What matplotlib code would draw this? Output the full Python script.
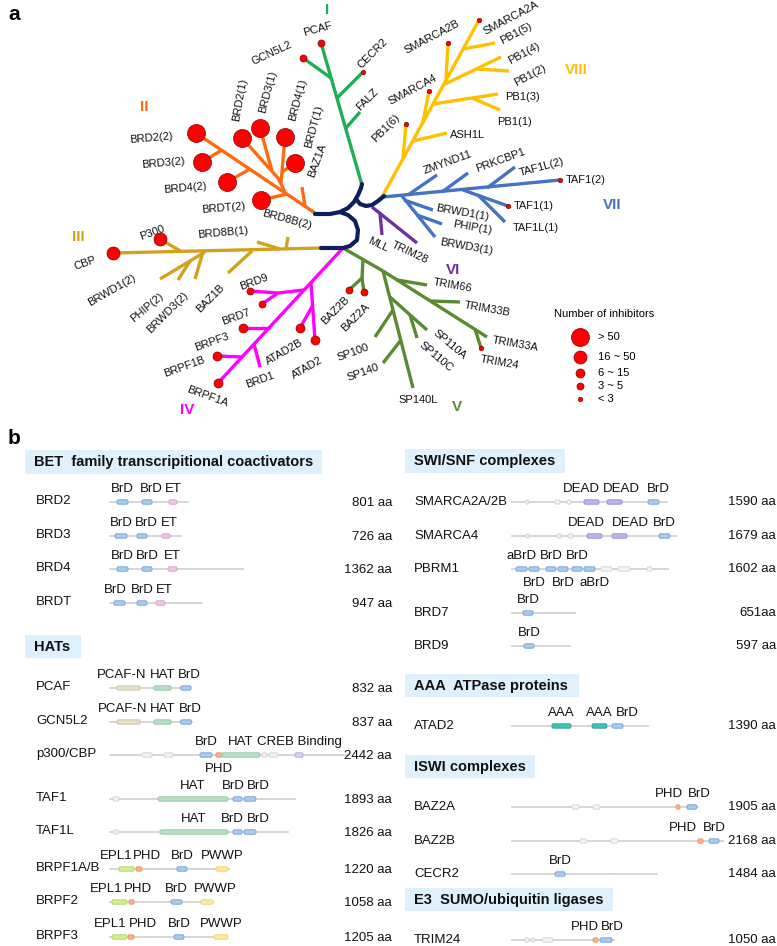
import matplotlib.pyplot as plt
from matplotlib.patches import FancyBboxPatch

plt.rcParams['font.family'] = ['Liberation Sans', 'DejaVu Sans']

# ---------------- data: panel a ----------------
size_classes = ['> 50', '16 ~ 50', '6 ~ 15', '3 ~ 5', '< 3']
# class index (into size_classes) of the number of inhibitors per bromodomain
inhibitors = {
    'BRD2(1)': 0, 'BRD3(1)': 0, 'BRD4(1)': 0, 'BRDT(1)': 0,
    'BRD2(2)': 0, 'BRD3(2)': 0, 'BRD4(2)': 0, 'BRDT(2)': 0,
    'CBP': 1, 'P300': 1,
    'BRD9': 3, 'BRD7': 3, 'BRPF3': 2, 'BRPF1B': 2, 'BRPF1A': 2,
    'ATAD2B': 2, 'ATAD2': 2, 'BAZ2B': 3, 'BAZ2A': 3, 'TRIM24': 4,
    'PCAF': 3, 'GCN5L2': 3, 'CECR2': 4,
    'SMARCA2A': 4, 'SMARCA2B': 4, 'SMARCA4': 4, 'PB1(6)': 4,
    'TAF1(2)': 4, 'TAF1(1)': 4,
}
family_names = ['I', 'II', 'III', 'IV', 'V', 'VI', 'VII', 'VIII']
family_colors = ['#1DAF55', '#FF6A10', '#D4A11C', '#FF00FF', '#5A8A32',
                 '#7030A0', '#4472C4', '#FFC000']

# ---------------- data: panel b ----------------
left_proteins = ['BRD2', 'BRD3', 'BRD4', 'BRDT', 'PCAF', 'GCN5L2', 'p300/CBP',
                 'TAF1', 'TAF1L', 'BRPF1A/B', 'BRPF2', 'BRPF3']
right_proteins = ['SMARCA2A/2B', 'SMARCA4', 'PBRM1', 'BRD7', 'BRD9', 'ATAD2',
                  'BAZ2A', 'BAZ2B', 'CECR2', 'TRIM24']
lengths = {'BRD2': 801, 'BRD3': 726, 'BRD4': 1362, 'BRDT': 947, 'PCAF': 832,
           'GCN5L2': 837, 'p300/CBP': 2442, 'TAF1': 1893, 'TAF1L': 1826,
           'BRPF1A/B': 1220, 'BRPF2': 1058, 'BRPF3': 1205,
           'SMARCA2A/2B': 1590, 'SMARCA4': 1679, 'PBRM1': 1602, 'BRD7': 651,
           'BRD9': 597, 'ATAD2': 1390, 'BAZ2A': 1905, 'BAZ2B': 2168,
           'CECR2': 1484, 'TRIM24': 1050}
# (domain, start aa, end aa); '' = unlabelled grey region
domains = {
    'BRD2': [('BrD', 72, 185), ('BrD', 328, 431), ('ET', 605, 687)],
    'BRD3': [('BrD', 51, 174), ('BrD', 277, 379), ('ET', 533, 615)],
    'BRD4': [('BrD', 72, 185), ('BrD', 328, 431), ('ET', 595, 687)],
    'BRDT': [('BrD', 41, 154), ('BrD', 277, 379), ('ET', 472, 564)],
    'PCAF': [('PCAF-N', 72, 308), ('HAT', 451, 626), ('BrD', 725, 830)],
    'GCN5L2': [('PCAF-N', 72, 308), ('HAT', 451, 626), ('BrD', 725, 835)],
    'p300/CBP': [('', 328, 431), ('', 554, 646), ('BrD', 923, 1046),
                 ('PHD', 1087, 1149), ('HAT', 1149, 1538), ('', 1559, 1610),
                 ('', 1631, 1723), ('CREB Binding', 1897, 1979)],
    'TAF1': [('', 31, 92), ('HAT', 492, 1210), ('BrD', 1262, 1354), ('BrD', 1374, 1497)],
    'TAF1L': [('', 31, 92), ('HAT', 513, 1210), ('BrD', 1262, 1354), ('BrD', 1374, 1497)],
    'BRPF1A/B': [('EPL1', 92, 246), ('PHD', 267, 328), ('BrD', 687, 790), ('PWWP', 1087, 1210)],
    'BRPF2': [('EPL1', 21, 174), ('PHD', 195, 246), ('BrD', 626, 738), ('PWWP', 933, 1056)],
    'BRPF3': [('EPL1', 21, 174), ('PHD', 185, 246), ('BrD', 656, 759), ('PWWP', 1067, 1210)],
    'SMARCA2A/2B': [('', 144, 174), ('', 441, 492), ('', 564, 605), ('DEAD', 738, 892),
                    ('DEAD', 974, 1128), ('BrD', 1395, 1508)],
    'SMARCA4': [('', 144, 174), ('', 462, 503), ('', 574, 626), ('DEAD', 769, 923),
                ('DEAD', 1026, 1179), ('BrD', 1508, 1620)],
    'PBRM1': [('aBrD', 41, 154), ('BrD', 174, 277), ('BrD', 349, 451), ('BrD', 472, 574),
              ('BrD', 615, 718), ('aBrD', 738, 851), ('', 913, 1026), ('', 1087, 1210),
              ('', 1385, 1436)],
    'BRD7': [('BrD', 113, 215)],
    'BRD9': [('BrD', 123, 226)],
    'ATAD2': [('AAA', 410, 605), ('AAA', 821, 974), ('BrD', 1026, 1138)],
    'BAZ2A': [('', 615, 687), ('', 831, 903), ('PHD', 1682, 1723), ('BrD', 1795, 1895)],
    'BAZ2B': [('', 697, 769), ('', 1015, 1087), ('PHD', 1908, 1959), ('BrD', 2021, 2123)],
    'CECR2': [('BrD', 441, 544)],
    'TRIM24': [('', 133, 174), ('', 195, 226), ('', 308, 421), ('PHD', 831, 882),
               ('BrD', 903, 1026)],
}
sections = ['BET  family transcripitional coactivators', 'HATs', 'SWI/SNF complexes',
            'AAA  ATPase proteins', 'ISWI complexes', 'E3  SUMO/ubiquitin ligases']

# ---------------- layout ----------------
W, H = 777, 946
fig = plt.figure(figsize=(W / 100, H / 100), dpi=100)
ax = fig.add_axes([0, 0, 1, 1])
ax.set_xlim(0, W)
ax.set_ylim(H, 0)
ax.axis('off')

# tree geometry (pixel space): branches, leaves -> (tip, label pos, rotation), numeral pos
tree = {
    'I': dict(numeral=(327, 10), branches=[
        [(362, 185), (321, 43)], [(346, 128), (360, 112)], [(337, 98), (363, 72)],
        [(331, 78), (303, 58)]],
        leaves={'PCAF': ((321, 43), (318, 29), 15), 'GCN5L2': ((303, 58), (272, 53), 25),
                'CECR2': ((363, 72), (373, 53), 45), 'FALZ': (None, (367, 100), 45)}),
    'II': dict(numeral=(144, 107), branches=[
        [(315, 213), (196, 133)], [(305, 206), (302, 187)], [(287, 194), (261, 200)],
        [(285, 192), (278, 178), (242, 138)], [(272, 171), (260, 128)],
        [(281, 183), (285, 137)], [(282, 172), (295, 163)],
        [(250, 169), (227, 182)], [(222, 150), (202, 162)]],
        leaves={'BRD2(2)': ((196, 133), (151, 138), 5), 'BRD3(2)': ((202, 162), (163, 163), 5),
                'BRD4(2)': ((227, 182), (185, 188), 5), 'BRDT(2)': ((261, 200), (224, 208), 5),
                'BRD2(1)': ((242, 138), (240, 100), 80), 'BRD3(1)': ((260, 128), (268, 92), 75),
                'BRD4(1)': ((285, 137), (298, 100), 75), 'BRDT(1)': ((295, 163), (314, 127), 75),
                'BAZ1A': (None, (317, 160), 70)}),
    'III': dict(numeral=(78, 237), branches=[
        [(322, 248), (113, 253)], [(182, 252), (160, 239)], [(205, 252), (160, 279)],
        [(190, 261), (178, 280)], [(203, 252), (195, 279)], [(252, 251), (228, 273)],
        [(280, 249), (257, 242)], [(286, 249), (288, 237)]],
        leaves={'CBP': ((113, 253), (85, 263), 20), 'P300': ((160, 239), (152, 233), 20),
                'BRD8B(1)': (None, (223, 233), 5), 'BRD8B(2)': (None, (287, 220), -15),
                'BRWD1(2)': (None, (112, 290), 30), 'PHIP(2)': (None, (147, 307), 40),
                'BRWD3(2)': (None, (168, 313), 45), 'BAZ1B': (None, (210, 298), 45)}),
    'IV': dict(numeral=(187, 410), branches=[
        [(343, 248), (218, 383)], [(304, 290), (278, 293), (250, 291)], [(278, 293), (262, 304)],
        [(311, 283), (315, 340)], [(313, 305), (300, 328)], [(270, 328), (243, 328)],
        [(254, 344), (260, 367)], [(242, 357), (217, 356)]],
        leaves={'BRD9': ((250, 291), (254, 282), 20), 'BRD7': ((262, 304), (236, 317), 20),
                'BRPF3': ((243, 328), (212, 342), 20), 'BRPF1B': ((217, 356), (184, 367), 20),
                'BRPF1A': ((218, 383), (207, 397), -20), 'BRD1': (None, (260, 380), 20),
                'ATAD2B': ((300, 328), (284, 352), 30), 'ATAD2': ((315, 340), (307, 368), 30)}),
    'V': dict(numeral=(457, 407), branches=[
        [(343, 248), (383, 271)], [(363, 260), (362, 278), (349, 290)], [(362, 278), (364, 292)],
        [(383, 271), (487, 337)], [(397, 280), (427, 285)], [(430, 301), (460, 302)],
        [(475, 329), (481, 348)], [(383, 271), (413, 388)], [(390, 297), (427, 330)],
        [(410, 315), (417, 338)], [(393, 310), (375, 337)], [(401, 340), (383, 363)]],
        leaves={'TRIM66': (None, (453, 285), -10), 'TRIM33B': (None, (487, 309), -10),
                'TRIM33A': (None, (515, 344), -10), 'TRIM24': ((481, 348), (500, 362), -10),
                'SP110A': (None, (450, 345), -40), 'SP110C': (None, (436, 357), -40),
                'SP140L': (None, (418, 400), 0), 'SP100': (None, (353, 352), 20),
                'SP140': (None, (363, 372), 20), 'BAZ2B': ((349, 290), (335, 310), 45),
                'BAZ2A': ((364, 292), (355, 317), 45)}),
    'VI': dict(numeral=(453, 270), branches=[
        [(372, 207), (417, 243)], [(380, 213), (382, 235)]],
        leaves={'MLL': (None, (378, 245), -25), 'TRIM28': (None, (410, 253), -25)}),
    'VII': dict(numeral=(612, 205), branches=[
        [(383, 197), (560, 180)], [(408, 195), (437, 175)], [(442, 192), (468, 173)],
        [(487, 188), (515, 167)], [(463, 190), (508, 206)], [(478, 195), (505, 222)],
        [(402, 196), (435, 237)], [(404, 200), (433, 210)], [(417, 215), (442, 224)]],
        leaves={'ZMYND11': (None, (448, 162), 20), 'PRKCBP1': (None, (500, 160), 20),
                'TAF1L(2)': (None, (542, 167), 15), 'TAF1(2)': ((560, 180), (586, 180), 0),
                'TAF1(1)': ((508, 206), (534, 206), 0), 'TAF1L(1)': (None, (536, 228), 0),
                'BRWD1(1)': (None, (462, 213), -10), 'PHIP(1)': (None, (472, 228), -10),
                'BRWD3(1)': (None, (466, 247), -10)}),
    'VIII': dict(numeral=(576, 70), branches=[
        [(382, 197), (479, 20)], [(403, 158), (406, 124)], [(413, 141), (447, 133)],
        [(423, 122), (429, 91)], [(433, 104), (498, 94)], [(472, 98), (500, 110)],
        [(446, 80), (448, 43)], [(443, 85), (501, 57)], [(477, 69), (509, 71)],
        [(463, 49), (495, 43)]],
        leaves={'SMARCA2A': ((479, 20), (511, 18), 28), 'SMARCA2B': ((448, 43), (432, 37), 28),
                'PB1(5)': (None, (516, 33), 28), 'PB1(4)': (None, (524, 53), 28),
                'PB1(2)': (None, (530, 75), 28), 'PB1(3)': (None, (523, 97), 0),
                'PB1(1)': (None, (515, 122), 0), 'SMARCA4': ((429, 91), (413, 90), 28),
                'PB1(6)': ((406, 124), (386, 128), 45), 'ASH1L': (None, (468, 135), 0)}),
}
navy = [
    [(315, 214), (330, 214), (340, 212), (348, 208), (354, 202), (358, 195), (361, 188), (362, 184)],
    [(356, 199), (360, 204), (366, 206), (372, 205), (378, 201), (384, 196)],
    [(340, 212), (348, 215), (355, 221), (358, 230), (357, 240), (350, 246), (343, 248), (321, 248)],
]
radius_px = [9, 6.5, 4.5, 3.5, 2.2]


def dot_size(r):
    return (2 * r * 0.72) ** 2


ax.text(8, 14, 'a', fontsize=15, fontweight='bold', va='center')
for path in navy:
    ax.plot(*zip(*path), color='#0E1F5B', lw=3.0, solid_capstyle='round',
            solid_joinstyle='round', zorder=2)
for fam, col in zip(family_names, family_colors):
    t = tree[fam]
    for br in t['branches']:
        ax.plot(*zip(*br), color=col, lw=2.4, solid_capstyle='butt',
                solid_joinstyle='round', zorder=1)
    for name, (tip, lab, rot) in t['leaves'].items():
        ax.text(lab[0], lab[1], name, fontsize=8, rotation=rot, ha='center', va='center',
                rotation_mode='anchor', color='#111111')
        if name in inhibitors and tip is not None:
            ax.scatter(tip[0], tip[1], s=dot_size(radius_px[inhibitors[name]]),
                       c='#FF0000', edgecolors='#8B0000', linewidths=0.5, zorder=5)
    ax.text(*t['numeral'], fam, color=col, fontsize=11, fontweight='bold',
            ha='center', va='center')

# legend for dot sizes
ax.text(554, 314, 'Number of inhibitors', fontsize=8, va='center')
for k, (lab, ly) in enumerate(zip(size_classes, [337, 357, 373, 386, 399])):
    ax.scatter(580, ly, s=dot_size(radius_px[k]), c='#FF0000', edgecolors='#8B0000',
               linewidths=0.5, zorder=5)
    ax.text(598, ly, lab, fontsize=8, va='center')

# ---------------- panel b ----------------
ax.text(8, 438, 'b', fontsize=15, fontweight='bold', va='center')

dom_colors = {
    'BrD': ('#A8CBEE', '#6E9FD8'), 'aBrD': ('#A8CBEE', '#6E9FD8'),
    'ET': ('#F2C6E2', '#D79BC3'), 'PCAF-N': ('#E4E1C8', '#C8C29E'),
    'HAT': ('#B6DFC6', '#8CC7A2'), 'PHD': ('#F8B48A', '#E8925E'),
    'CREB Binding': ('#D8D2F1', '#ADA3DD'), 'DEAD': ('#BEB3EF', '#9585DC'),
    'AAA': ('#40C2B6', '#27A095'), 'EPL1': ('#D5EC90', '#B0D35A'),
    'PWWP': ('#FFE9A2', '#F0CF60'), '': ('#F2F2F2', '#D2D2D2'),
}
scale = 0.0975  # px per residue
label_below = {('p300/CBP', 3), ('PBRM1', 1), ('PBRM1', 3), ('PBRM1', 5)}
nudge = {('SMARCA2A/2B', 3): -10, ('SMARCA2A/2B', 4): 7, ('SMARCA2A/2B', 5): 5,
         ('SMARCA4', 3): -8, ('SMARCA4', 4): 11, ('BRPF1A/B', 0): -10, ('BRPF1A/B', 1): 8,
         ('BRPF2', 0): -13, ('BRPF2', 1): 6, ('BRPF2', 3): 8, ('BRPF3', 0): -9, ('BRPF3', 1): 12,
         ('TAF1', 2): -4, ('TAF1', 3): 8, ('TAF1L', 2): -5, ('TAF1L', 3): 8, ('ATAD2', 2): 10,
         ('BAZ2A', 2): -9, ('BAZ2A', 3): 7, ('BAZ2B', 2): -18, ('TRIM24', 3): -11,
         ('TRIM24', 4): 6, ('PCAF', 0): -7, ('PCAF', 2): 4, ('GCN5L2', 0): -6, ('GCN5L2', 2): 4,
         ('BRDT', 0): -4, ('BRDT', 2): 4, ('BRD2', 1): 4, ('BRD3', 1): 4, ('BRD3', 2): 3,
         ('PBRM1', 5): 5}
columns = [
    dict(proteins=left_proteins, rows=[502, 536, 569, 603, 688, 722, 755, 799, 832, 869, 902, 937],
         x0=110, name_x=36, aa_x=392, name_dy=-1.5, aa_dy=1.0),
    dict(proteins=right_proteins, rows=[502, 536, 569, 613, 646, 726, 807, 841, 874, 940],
         x0=512, name_x=414, aa_x=776, name_dy=0, aa_dy=0),
]
for col in columns:
    for prot, y in zip(col['proteins'], col['rows']):
        x0 = col['x0']
        ax.plot([x0, x0 + lengths[prot] * scale], [y, y], color='#D3D3D3', lw=1.3, zorder=1)
        for i, (kind, a, b) in enumerate(domains[prot]):
            fc, ec = dom_colors[kind]
            xa, xb = x0 + a * scale, x0 + b * scale
            ax.add_patch(FancyBboxPatch((xa, y - 2.2), xb - xa, 4.4,
                                        boxstyle='round,pad=0,rounding_size=1.5',
                                        fc=fc, ec=ec, lw=0.6, zorder=3))
            if kind:
                ly = y + 14 if (prot, i) in label_below else y - 13
                ax.text((xa + xb) / 2 + nudge.get((prot, i), 0), ly, kind, fontsize=9.5,
                        ha='center', va='center', color='#111111')
        ax.text(col['name_x'], y + col['name_dy'], prot, fontsize=9.5, va='center',
                color='#111111')
        sep = '' if prot == 'BRD7' else ' '
        ax.text(col['aa_x'], y + col['aa_dy'], f"{lengths[prot]}{sep}aa", fontsize=9.5,
                va='center', ha='right', color='#111111')

# section headers: (x0, y0, x1, y1)
boxes = [(25, 450, 322, 474), (25, 635, 81, 658), (405, 449, 565, 473),
         (405, 674, 579, 697), (405, 755, 535, 778), (405, 888, 613, 911)]
for text, (bx0, by0, bx1, by1) in zip(sections, boxes):
    ax.add_patch(FancyBboxPatch((bx0, by0), bx1 - bx0, by1 - by0, boxstyle='square,pad=0',
                                fc='#DDF0FB', ec='none', zorder=0))
    ax.text(bx0 + 9, (by0 + by1) / 2, text, fontsize=10.5, fontweight='bold',
            va='center', color='#111111')

fig.savefig('out.png', dpi=100)
